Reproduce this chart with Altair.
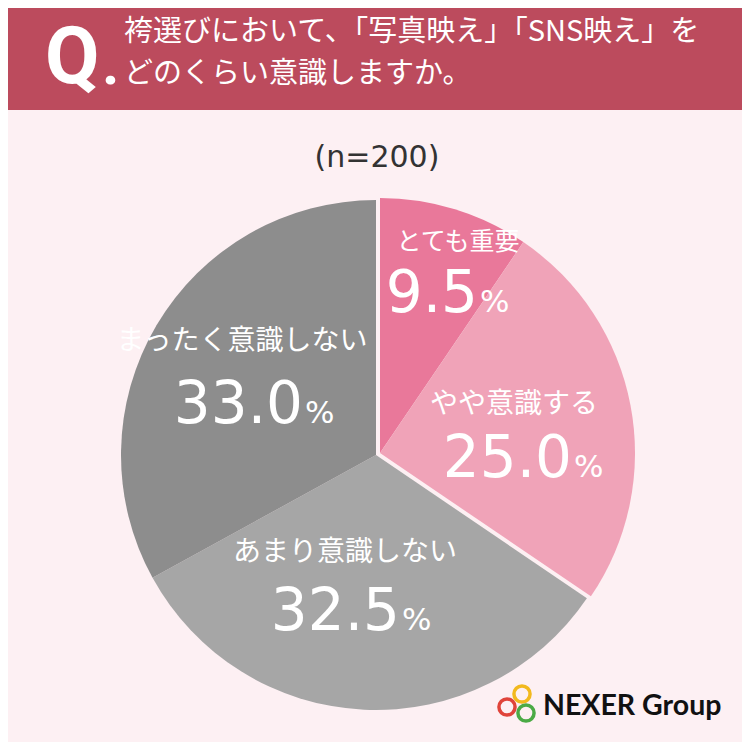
import math

import altair as alt
import pandas as pd

categories = ["とても重要", "やや意識する", "あまり意識しない", "まったく意識しない"]
shares = [9.5, 25.0, 32.5, 33.0]
slice_colors = ["#E9789A", "#F0A3B8", "#A6A6A6", "#8D8D8D"]
exploded = [True, True, False, False]

question = ["袴選びにおいて、「写真映え」「SNS映え」を", "どのくらい意識しますか。"]
sample_note = "(n=200)"
brand = "NEXER Group"
ring_colors = ["#F2B91E", "#E0443A", "#4BAA45"]

FONT = "Noto Sans CJK JP"
NUM_FONT = "DejaVu Sans"
BG = "#FDF0F3"
HEADER = "#BC4B5D"
W = H = 734
CX, CY, R = 368, 447, 255
SHIFT = (4, -2)  # pink slices pulled out a little

# label anchors in px (layout only)
label_xy = [(450, 234), (506, 397), (337, 545), (234, 334)]
label_size = [25, 28, 28, 28]
number_xy = [(470, 304), (564, 469), (392, 622), (295, 415)]
ring_xy = [(514, 686), (499, 699), (518, 705)]

df = pd.DataFrame({"cat": categories, "share": shares, "exploded": exploded})
df["end"] = df["share"].cumsum()
df["start"] = df["end"] - df["share"]
df["num"] = df["share"].map(lambda v: f"{v:.1f}")
df["lx"] = [p[0] for p in label_xy]
df["ly"] = [p[1] for p in label_xy]
df["fs"] = label_size
df["nx"] = [p[0] for p in number_xy]
df["ny"] = [p[1] for p in number_xy]
df["px"] = df["nx"] + 2

color = alt.Color("cat:N", scale=alt.Scale(domain=categories, range=slice_colors), legend=None)
theta_scale = alt.Scale(domain=[0, 100], range=[0, 2 * math.pi])


def pie(data, cx, cy):
    return (
        alt.Chart(data)
        .mark_arc(radius=R)
        .encode(
            theta=alt.Theta("start:Q", scale=theta_scale),
            theta2=alt.Theta2("end:Q"),
            color=color,
            x=alt.value(cx),
            y=alt.value(cy),
        )
    )


grey = pie(df[~df["exploded"]], CX, CY)
pink = pie(df[df["exploded"]], CX + SHIFT[0], CY + SHIFT[1])

labels = (
    alt.Chart(df)
    .mark_text(font=FONT, color="white", align="center", baseline="middle")
    .encode(
        x=alt.X("lx:Q", scale=None),
        y=alt.Y("ly:Q", scale=None),
        size=alt.Size("fs:Q", scale=None, legend=None),
        text="cat:N",
    )
)
numbers = (
    alt.Chart(df)
    .mark_text(font=NUM_FONT, color="white", align="right", baseline="alphabetic", fontSize=58)
    .encode(x=alt.X("nx:Q", scale=None), y=alt.Y("ny:Q", scale=None), text="num:N")
)
percents = (
    alt.Chart(df)
    .mark_text(font=NUM_FONT, color="white", align="left", baseline="alphabetic", fontSize=31)
    .encode(x=alt.X("px:Q", scale=None), y=alt.Y("ny:Q", scale=None), text=alt.value("%"))
)

one = pd.DataFrame({"a": [0]})
header = alt.Chart(one).mark_rect(color=HEADER).encode(
    x=alt.value(0), x2=alt.value(W), y=alt.value(0), y2=alt.value(102)
)
q_mark = alt.Chart(one).mark_text(
    text="Q", font="Roboto", fontWeight="bold", fontSize=79,
    color="white", align="left", baseline="alphabetic",
).encode(x=alt.value(37), y=alt.value(75))
q_dot = alt.Chart(one).mark_text(
    text=".", font="Roboto", fontWeight="bold", fontSize=60,
    color="white", align="left", baseline="alphabetic",
).encode(x=alt.value(94), y=alt.value(76))
q_lines = (
    alt.Chart(pd.DataFrame({"line": question, "y": [24, 66]}))
    .mark_text(font=FONT, fontSize=29, color="white", align="left", baseline="middle")
    .encode(x=alt.value(116), y=alt.Y("y:Q", scale=None), text="line:N")
)
note = alt.Chart(one).mark_text(
    text=sample_note, font=NUM_FONT, fontSize=30, color="#333333", align="center", baseline="middle"
).encode(x=alt.value(CX + 1), y=alt.value(150))

rings = (
    alt.Chart(pd.DataFrame({"c": ring_colors, "x": [p[0] for p in ring_xy], "y": [p[1] for p in ring_xy]}))
    .mark_point(shape="circle", filled=False, size=260, strokeWidth=3.5, opacity=1)
    .encode(x=alt.X("x:Q", scale=None), y=alt.Y("y:Q", scale=None), stroke=alt.Stroke("c:N", scale=None))
)
logo = alt.Chart(one).mark_text(
    text=brand, font="Lato", fontWeight="bold", fontSize=28.5, color="#111111", align="left", baseline="alphabetic"
).encode(x=alt.value(535), y=alt.value(707))

chart = (
    alt.layer(header, q_mark, q_dot, q_lines, note, grey, pink, labels, numbers, percents, rings, logo)
    .properties(width=W, height=H, background=BG, padding=0, autosize=alt.AutoSizeParams(type="none"))
    .configure_view(strokeWidth=0)
)

chart.save("out.html", embed_options={"renderer": "svg", "actions": False})
